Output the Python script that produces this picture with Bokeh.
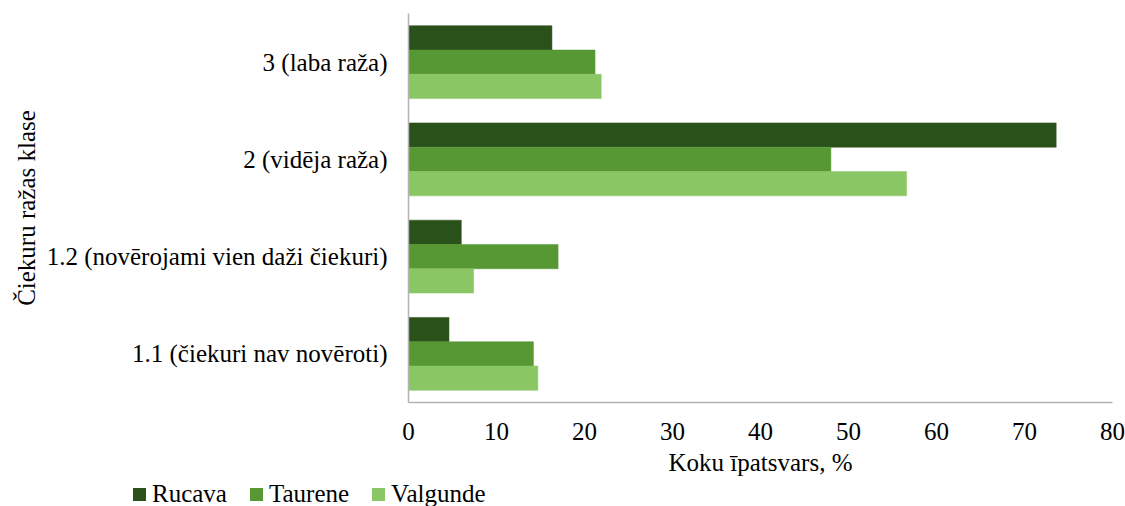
from bokeh.plotting import figure
from bokeh.models import FactorRange, Range1d, FixedTicker, ColumnDataSource, Div
from bokeh.transform import dodge
from bokeh.layouts import column
from bokeh.embed import file_html
from bokeh.resources import INLINE

categories = ["1.1 (čiekuri nav novēroti)", "1.2 (novērojami vien daži čiekuri)", "2 (vidēja raža)", "3 (laba raža)"]
rucava = [4.6, 6.0, 73.6, 16.3]
taurene = [14.2, 17.0, 48.0, 21.2]
valgunde = [14.7, 7.4, 56.6, 21.9]
series_names = ["Rucava", "Taurene", "Valgunde"]
colors = ["#2b511a", "#579834", "#8bc665"]
x_ticks = [0, 10, 20, 30, 40, 50, 60, 70, 80]

FONT = "Liberation Serif"

source = ColumnDataSource(dict(cat=categories, Rucava=rucava, Taurene=taurene, Valgunde=valgunde))

p = figure(y_range=FactorRange(*categories, range_padding=0), x_range=Range1d(0, 80),
           width=1125, height=478, output_backend="svg", toolbar_location=None,
           min_border_left=408, min_border_top=13, min_border_right=13, min_border_bottom=0)

offsets = [0.25, 0.0, -0.25]
for name, col, off in zip(series_names, colors, offsets):
    p.hbar(y=dodge("cat", off, range=p.y_range), left=0, right=name, height=0.25,
           source=source, fill_color=col, line_color=col, line_width=0.5)

p.xgrid.visible = False
p.ygrid.visible = False
p.outline_line_color = None

for ax in (p.xaxis[0], p.yaxis[0]):
    ax.axis_line_color = "#b3b3b3"
    ax.axis_line_width = 1.5
    ax.major_tick_line_color = None
    ax.minor_tick_line_color = None
    ax.major_label_text_font = FONT
    ax.major_label_text_font_size = "25px"
    ax.major_label_text_color = "#000000"
    ax.axis_label_text_font = FONT
    ax.axis_label_text_font_size = "25px"
    ax.axis_label_text_font_style = "normal"
    ax.axis_label_text_color = "#000000"

p.xaxis.ticker = FixedTicker(ticks=x_ticks)
p.xaxis.major_label_standoff = 14
p.xaxis.axis_label = "Koku īpatsvars, %"
p.xaxis.axis_label_standoff = 6
p.yaxis.major_label_standoff = 15
p.yaxis.axis_label = "Čiekuru ražas klase"
p.yaxis.axis_label_standoff = 4

# legend strip below the chart, built from the series names and colours
parts = []
for i, (name, col) in enumerate(zip(series_names, colors)):
    gap = "23px" if i < len(series_names) - 1 else "0px"
    parts.append(
        f'<span style="display:inline-block;width:13px;height:13px;background:{col};'
        f'vertical-align:middle;margin-right:6px;"></span>'
        f'<span style="vertical-align:middle;margin-right:{gap};">{name}</span>'
    )
legend_html = (
    f'<div style="font-family:\'{FONT}\';font-size:25px;color:#000000;line-height:28px;'
    f'padding-left:133px;white-space:nowrap;">' + "".join(parts) + "</div>"
)
legend_div = Div(text=legend_html, width=1125, height=28, margin=(0, 0, 0, 0))

layout = column(p, legend_div, spacing=0)
open("out.html", "w").write(file_html(layout, INLINE))
